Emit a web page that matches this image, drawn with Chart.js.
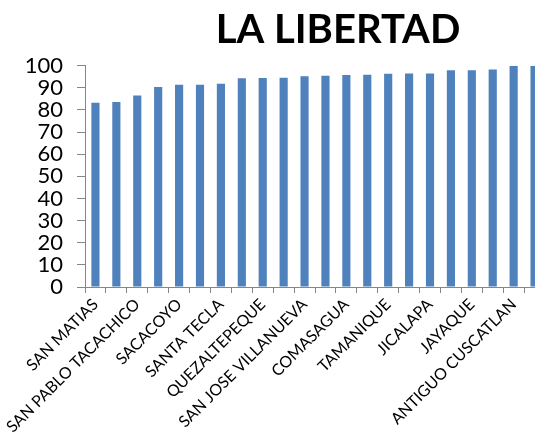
<!doctype html>
<html lang="es"><head><meta charset="utf-8">
<title>LA LIBERTAD</title>
<script src="https://cdn.jsdelivr.net/npm/chart.js@4.4.0/dist/chart.umd.min.js"></script>
<style>
  html,body{margin:0;padding:0;background:#fff;overflow:hidden}
  #wrap{width:535px;height:435px;overflow:hidden}
  canvas{display:block}
</style></head><body>
<div id="wrap"><canvas id="c" width="676" height="435"></canvas></div>
<script>
// municipios (orden ascendente), solo se rotulan los pares como en el original
const MUNICIPIOS = [
  'SAN MATIAS', 'CIUDAD ARCE', 'SAN PABLO TACACHICO', 'SAN JUAN OPICO',
  'SACACOYO', 'COLON', 'SANTA TECLA', 'TEPECOYO',
  'QUEZALTEPEQUE', 'ZARAGOZA', 'SAN JOSE VILLANUEVA', 'TEOTEPEQUE',
  'COMASAGUA', 'CHILTIUPAN', 'TAMANIQUE', 'HUIZUCAR',
  'JICALAPA', 'TALNIQUE', 'JAYAQUE', 'LA LIBERTAD',
  'ANTIGUO CUSCATLAN', 'NUEVO CUSCATLAN'
];
const VALORES = [
  83.3, 83.6, 86.5, 90.4, 91.4, 91.4, 91.9, 94.3, 94.4, 94.6, 95.2,
  95.5, 95.8, 95.9, 96.4, 96.5, 96.5, 98.0, 98.0, 98.3, 100, 100
];
const Y_MIN = 0, Y_MAX = 100, Y_STEP = 10;

const AXIS = '#868686';
const FONT = 'Lato, "Open Sans", sans-serif';

new Chart(document.getElementById('c'), {
  type: 'bar',
  data: {
    labels: MUNICIPIOS,
    datasets: [{
      data: VALORES,
      backgroundColor: '#4F81BD',
      borderWidth: 0,
      barPercentage: 0.39,
      categoryPercentage: 1
    }]
  },
  options: {
    responsive: false,
    animation: false,
    layout: { padding: 0 },
    plugins: {
      legend: { display: false },
      tooltip: { enabled: false },
      title: {
        display: true,
        text: 'LA LIBERTAD',
        color: '#000',
        font: { family: FONT, size: 40, weight: 'bold', lineHeight: 1.2 },
        padding: { top: 6, bottom: 11.7 }
      }
    },
    scales: {
      x: {
        grid: { drawOnChartArea: false, color: AXIS, tickLength: 6, offset: true },
        border: { color: AXIS, width: 1 },
        ticks: {
          autoSkip: false,
          minRotation: 45, maxRotation: 45,
          padding: 2,
          color: '#000',
          font: { family: FONT, size: 16 },
          callback: function (v, i) { return i % 2 === 0 ? this.getLabelForValue(v) : ''; }
        },
        afterFit: s => { s.height = 148; }
      },
      y: {
        min: Y_MIN, max: Y_MAX,
        grid: { drawOnChartArea: false, color: AXIS, tickLength: 8 },
        border: { color: AXIS, width: 1 },
        ticks: {
          stepSize: Y_STEP,
          autoSkip: false,
          padding: 14,
          color: '#000',
          font: { family: FONT, size: 22 }
        },
        afterFit: s => { s.width = 85; }
      },
      // eje vacío a la derecha: el gráfico sigue más allá del recorte
      yr: {
        position: 'right',
        min: Y_MIN, max: Y_MAX,
        grid: { display: false },
        border: { display: false },
        ticks: { display: false },
        afterFit: s => { s.width = 131; }
      }
    }
  }
});
</script>
</body></html>
